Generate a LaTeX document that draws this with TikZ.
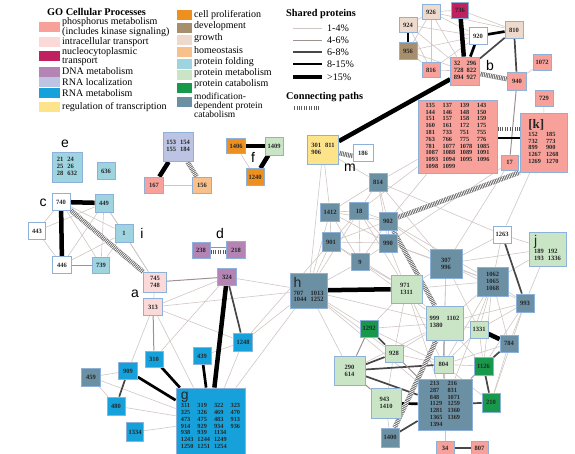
\documentclass[tikz,border=0pt]{standalone}
\usepackage{fontspec}
\setmainfont{Liberation Serif}
\newfontfamily\labf{Liberation Sans}
\pgfdeclarelayer{bg}
\pgfsetlayers{bg,main}
\definecolor{cphos}{HTML}{F7A19A}
\definecolor{cintra}{HTML}{FAD9D8}
\definecolor{cnuc}{HTML}{C0225F}
\definecolor{cdna}{HTML}{B384B4}
\definecolor{crloc}{HTML}{BCC3E3}
\definecolor{crmet}{HTML}{17A1DA}
\definecolor{ctrans}{HTML}{FDE48B}
\definecolor{cprol}{HTML}{EE901F}
\definecolor{cdev}{HTML}{A78E6D}
\definecolor{cgrow}{HTML}{EEDACC}
\definecolor{chomeo}{HTML}{F8C08B}
\definecolor{cpfold}{HTML}{9ED3E0}
\definecolor{cpmet}{HTML}{C9E5C6}
\definecolor{cpcat}{HTML}{17984A}
\definecolor{cmod}{HTML}{6B8FA3}
\definecolor{cbord}{HTML}{8DB1D8}
\definecolor{cthin}{HTML}{D0C6C3}
\definecolor{cmid}{HTML}{9C9391}
\newcommand\nfont{\bfseries\fontsize{6.5}{6.8}\selectfont}
\newcommand\nfontb{\bfseries\fontsize{6.3}{6.8}\selectfont}
\newcommand\biglab{\labf\mdseries\fontsize{14}{14}\selectfont}
\tikzset{
 nd/.style={draw=cbord, line width=0.8pt, inner sep=0.5pt, align=left, font=\nfont, text=black!85},
 sq/.style={nd, minimum width=18pt, minimum height=17pt},
 e1/.style={draw=cthin, line width=0.6pt},
 e2/.style={draw=cmid, line width=1pt},
 e3/.style={draw=black!72, line width=1.7pt},
 e4/.style={draw=black, line width=2.7pt},
 e5/.style={draw=black, line width=4.5pt},
 cpath/.style={draw=black!65, line width=4.5pt, postaction={draw=white, line width=4.5pt, dash pattern=on 0.7pt off 1pt}},
 lab/.style={font=\biglab, inner sep=0pt},
 lgt/.style={font=\fontsize{10}{7.5}\selectfont, align=left, anchor=west, inner sep=0pt},
 lgh/.style={font=\bfseries\fontsize{10.3}{10}\selectfont, anchor=west, inner sep=0pt},
 sw/.style={minimum width=21pt, minimum height=10pt, inner sep=0pt},
 swb/.style={minimum width=15pt, minimum height=10pt, inner sep=0pt},
}
\begin{document}
\begin{tikzpicture}[x=1pt,y=-1pt]
\useasboundingbox (0,0) rectangle (575,453);
% ---------- legend ----------
\node[lgh] (lt1) at (47,11.5) {GO Cellular Processes};
\node[sw, fill=cphos] (s1) at (49,26.5) {};
\node[lgt] (t1) at (62,27.5) {phosphorus metabolism\\(includes kinase signaling)};
\node[sw, fill=cintra] (s2) at (49,42) {};
\node[lgt] (t2) at (62,42) {intracellular transport};
\node[sw, fill=cnuc] (s3) at (49,56) {};
\node[lgt] (t3) at (62,56.5) {nucleocytoplasmic\\transport};
\node[sw, fill=cdna] (s4) at (49,71.5) {};
\node[lgt] (t4) at (62,71.5) {DNA metabolism};
\node[sw, fill=crloc] (s5) at (49,82) {};
\node[lgt] (t5) at (62,82) {RNA localization};
\node[sw, fill=crmet] (s6) at (49,93) {};
\node[lgt] (t6) at (62,93) {RNA metabolism};
\node[sw, fill=ctrans] (s7) at (49,107) {};
\node[lgt] (t7) at (62,107) {regulation of transcription};
\node[swb, fill=cprol] (u1) at (184.5,15) {};
\node[lgt] (v1) at (194,15) {cell proliferation};
\node[swb, fill=cdev] (u2) at (184.5,27.5) {};
\node[lgt] (v2) at (194,26.5) {development};
\node[swb, fill=cgrow] (u3) at (184.5,40) {};
\node[lgt] (v3) at (194,38) {growth};
\node[swb, fill=chomeo] (u4) at (184.5,51.5) {};
\node[lgt] (v4) at (194,50) {homeostasis};
\node[swb, fill=cpfold] (u5) at (184.5,63.5) {};
\node[lgt] (v5) at (194,62) {protein folding};
\node[swb, fill=cpmet] (u6) at (184.5,75) {};
\node[lgt] (v6) at (194,73.5) {protein metabolism};
\node[swb, fill=cpcat] (u7) at (184.5,87.5) {};
\node[lgt] (v7) at (194,84.5) {protein catabolism};
\node[swb, fill=cmod] (u8) at (184.5,101.5) {};
\node[lgt, font=\fontsize{9.5}{8.6}\selectfont] (v8) at (194,105.5) {modification-\\dependent protein\\catabolism};
\node[lgh] (lt2) at (286,14) {Shared proteins};
\coordinate (p1a) at (293,28); \coordinate (p1b) at (322,28);
\coordinate (p2a) at (293,40); \coordinate (p2b) at (322,40);
\coordinate (p3a) at (293,52); \coordinate (p3b) at (322,52);
\coordinate (p4a) at (293,64); \coordinate (p4b) at (322,64);
\coordinate (p5a) at (293,77); \coordinate (p5b) at (322,77);
\draw[e1] (p1a) -- (p1b);
\draw[e2] (p2a) -- (p2b);
\draw[e3] (p3a) -- (p3b);
\draw[e4] (p4a) -- (p4b);
\draw[e5] (p5a) -- (p5b);
\node[lgt] (w1) at (327,28) {1-4\%};
\node[lgt] (w2) at (327,40) {4-6\%};
\node[lgt] (w3) at (327,52) {6-8\%};
\node[lgt] (w4) at (327,64) {8-15\%};
\node[lgt] (w5) at (327,77) {>15\%};
\node[lgh] (lt3) at (286,97) {Connecting paths};
\coordinate (p6a) at (293,108); \coordinate (p6b) at (320,108);
\draw[cpath] (p6a) -- (p6b);
% ---------- top right cluster ----------
\node[sq, fill=cgrow, minimum height=15pt] (n926) at (431,12) {926};
\node[sq, fill=cnuc, minimum width=17pt, minimum height=16pt] (n736) at (460,10) {736};
\node[sq, fill=cgrow, minimum height=15pt] (n924) at (408,25) {924};
\node[sq, fill=cdev] (n956) at (408,51) {956};
\node[sq, fill=white] (n920) at (478,36) {920};
\node[sq, fill=cgrow] (n810) at (514,30) {810};
\node[sq, fill=cphos, minimum height=15pt] (n816) at (431,70) {816};
\node[nd, fill=cphos, minimum width=29pt, minimum height=28pt] (b) at (465,71) {\begin{tabular}{@{}l@{\hspace{3pt}}l@{}}32&296\\728&822\\894&927\end{tabular}};
\node[sq, fill=cphos, minimum height=16pt] (n1072) at (542,62) {1072};
\node[sq, fill=cphos, minimum width=19pt, minimum height=18pt] (n940) at (517,81) {940};
\node[sq, fill=cphos, minimum height=16pt] (n729) at (544,98) {729};
\node[nd, fill=cphos, minimum width=79pt, minimum height=73pt, font=\nfontb] (big) at (457.5,136.5) {\begin{tabular}{@{}l@{\hspace{4.5pt}}l@{\hspace{4.5pt}}l@{\hspace{4.5pt}}l@{}}135&137&139&143\\144&146&148&150\\151&157&158&159\\160&161&172&175\\181&733&751&755\\763&766&775&776\\781&1077&1078&1085\\1087&1088&1089&1091\\1093&1094&1095&1096\\1098&1099\end{tabular}};
\node[sq, fill=cphos, minimum width=17pt, minimum height=15pt] (n17) at (509.5,162.5) {17};
\node[nd, fill=cphos, minimum width=47pt, minimum height=59pt, font=\nfontb] (k) at (543.5,142.5) {\begin{tabular}{@{}l@{\hspace{5pt}}l@{}}\multicolumn{2}{@{}l}{\fontsize{13}{13}\selectfont[k]}\\[1pt]152&185\\732&773\\899&900\\1267&1268\\1269&1270\end{tabular}};
% ---------- left clusters ----------
\node[nd, fill=cpfold, minimum width=30pt, minimum height=30pt] (e) at (67,167) {\begin{tabular}{@{}l@{\hspace{4pt}}l@{}}21&24\\25&26\\28&632\end{tabular}};
\node[sq, fill=cpfold] (n636) at (106,171) {636};
\node[sq, fill=white] (n740) at (61,202) {740};
\node[sq, fill=cpfold, minimum height=18pt] (n449) at (104,203) {449};
\node[sq, fill=white, minimum width=17pt] (n443) at (37,231) {443};
\node[sq, fill=cpfold, minimum height=18pt] (n1) at (124,233) {1};
\node[sq, fill=white, minimum width=19pt] (n446) at (62,265) {446};
\node[sq, fill=cpfold, minimum width=17pt, minimum height=16pt] (n739) at (101,265) {739};
\node[nd, fill=crloc, minimum width=30pt, minimum height=29pt] (n153) at (178,147) {\begin{tabular}{@{}l@{\hspace{4pt}}l@{}}153&154\\155&184\end{tabular}};
\node[sq, fill=cphos, minimum width=19pt, minimum height=16pt] (n167) at (154,185) {167};
\node[sq, fill=chomeo, minimum width=19pt, minimum height=16pt] (n156) at (202,185) {156};
\node[sq, fill=cprol, minimum width=19pt, minimum height=15pt] (n1406) at (236,146) {1406};
\node[sq, fill=cpmet, minimum height=18pt] (n1409) at (274,146) {1409};
\node[sq, fill=cprol] (n1240) at (255,177) {1240};
\node[nd, fill=ctrans, minimum width=31pt, minimum height=29pt] (m) at (323,150) {\begin{tabular}{@{}l@{\hspace{4pt}}l@{}}301&811\\906\end{tabular}};
\node[sq, fill=white, minimum width=20pt] (n186) at (363,153) {186};
\node[sq, fill=cdna, minimum height=16pt] (n238) at (201,250) {238};
\node[sq, fill=cdna, minimum width=19pt] (n218) at (236,250) {218};
\node[sq, fill=cdna, minimum width=19pt] (n324) at (227,277) {324};
\node[nd, fill=cintra, minimum width=23pt, minimum height=20pt] (a) at (155,282) {745\\748};
\node[sq, fill=cintra, minimum width=19pt] (n313) at (153,307) {313};
\node[nd, fill=crmet, minimum width=69pt, minimum height=67pt, font=\nfontb] (g) at (210.5,421.5) {\begin{tabular}{@{}l@{\hspace{4pt}}l@{\hspace{4pt}}l@{\hspace{4pt}}l@{}}\multicolumn{4}{@{}l}{\biglab g}\\[1pt]311&319&322&323\\325&326&469&470\\473&475&483&913\\914&929&934&936\\938&939&1134\\1243&1244&1249\\1250&1251&1254\end{tabular}};
\node[sq, fill=crmet, minimum width=19pt, minimum height=18pt] (n1248) at (243,342) {1248};
\node[sq, fill=crmet] (n439) at (202,356) {439};
\node[sq, fill=crmet, minimum height=16pt] (n310) at (154,359) {310};
\node[sq, fill=crmet, minimum width=19pt] (n909) at (128,371) {909};
\node[sq, fill=cmod, minimum width=19pt, minimum height=18pt] (n459) at (91,377) {459};
\node[sq, fill=crmet, minimum height=18pt] (n480) at (116,406) {480};
\node[sq, fill=crmet, minimum width=17pt, minimum height=19pt] (n1334) at (135,432) {1334};
% ---------- central / right clusters ----------
\node[sq, fill=cmod, minimum height=18pt] (n814) at (378,182) {814};
\node[sq, fill=cmod, minimum width=19pt, minimum height=18pt] (n1412) at (330,212) {1412};
\node[sq, fill=cmod, minimum width=19pt] (n18) at (359,211) {18};
\node[sq, fill=cmod, minimum height=18pt] (n902) at (388,221) {902};
\node[sq, fill=cmod, minimum height=19pt] (n901) at (331,242) {901};
\node[sq, fill=cmod, minimum height=18pt] (n990) at (388,243) {990};
\node[sq, fill=cmod] (n9) at (360,262) {9};
\node[nd, fill=cmod, minimum width=37pt, minimum height=35pt] (h) at (308.5,290.5) {\begin{tabular}{@{}l@{\hspace{4pt}}l@{}}\multicolumn{2}{@{}l}{\biglab h}\\[1pt]707&1013\\1044&1252\end{tabular}};
\node[nd, fill=cpmet, minimum width=31pt, minimum height=28pt] (n971) at (406.5,289) {971\\1311};
\node[nd, fill=cmod, minimum width=32pt, minimum height=29pt] (n307) at (446,263.5) {307\\996};
\node[sq, fill=white] (n1263) at (502,234.5) {1263};
\node[nd, fill=cpmet, minimum width=37pt, minimum height=34pt] (j) at (547.5,249) {\begin{tabular}{@{}l@{\hspace{4pt}}l@{}}\multicolumn{2}{@{}l}{\biglab j}\\[1pt]189&192\\193&1336\end{tabular}};
\node[nd, fill=cmod, minimum width=31pt, minimum height=29pt] (n1062) at (492.5,281.5) {1062\\1065\\1068};
\node[sq, fill=cmod, minimum height=18pt] (n993) at (525,303) {993};
\node[nd, fill=cpmet, minimum width=37pt, minimum height=34pt] (n999) at (444.5,323) {\begin{tabular}{@{}l@{\hspace{4pt}}l@{}}999&1102\\1380\end{tabular}};
\node[sq, fill=cpmet] (n1331) at (479,329.5) {1331};
\node[sq, fill=cmod] (n784) at (509,343.5) {784};
\node[sq, fill=cpcat] (n1292) at (369,328.5) {1292};
\node[sq, fill=cpmet] (n928) at (394,353.5) {928};
\node[nd, fill=cpmet, minimum width=31pt, minimum height=29pt] (n290) at (349.5,370.5) {290\\614};
\node[sq, fill=cpmet, minimum width=19pt] (n804) at (443.5,364.5) {804};
\node[sq, fill=cpcat, minimum width=19pt, minimum height=18pt] (n1126) at (483.5,366) {1126};
\node[sq, fill=cpcat, minimum height=19pt] (n210) at (491,402.5) {210};
\node[nd, fill=cmod, minimum width=54pt, minimum height=51pt, font=\nfontb] (big2) at (445,404.5) {\begin{tabular}{@{}l@{\hspace{5pt}}l@{}}213&216\\287&831\\848&1071\\1129&1259\\1281&1360\\1365&1369\\1394\end{tabular}};
\node[nd, fill=cpmet, minimum width=30pt, minimum height=30pt] (n943) at (386,403) {943\\1410};
\node[sq, fill=cmod, minimum height=19pt] (n1400) at (390,437.5) {1400};
\node[sq, fill=cphos, minimum height=14pt] (n34) at (445,448) {34};
\node[sq, fill=cphos, minimum width=17pt, minimum height=14pt] (n807) at (479.5,448) {807};
% ---------- cluster labels ----------
\node[lab] (la) at (135,294) {a};
\node[lab] (lb) at (490,65) {b};
\node[lab] (lc) at (43,203) {c};
\node[lab] (ld) at (220,233) {d};
\node[lab] (le) at (65,144) {e};
\node[lab] (lf) at (253,157) {f};
\node[lab] (li) at (142,233) {i};
\node[lab] (lm) at (350,168) {m};
% ---------- connectors ----------
\begin{pgfonlayer}{bg}
% top right
\foreach \u/\v in {n926/n924,n926/n956,n926/n816,n926/b,n926/n736,n926/n810,n926/n920,n924/n816,n924/b,n924/n920,n956/n816,n956/b,n956/n920,n736/n810,n816/b,n816/n920,n1072/n940,n729/k,n17/k,big/n814,big/n902,big/n18,n17/n307,n17/n990,k/n1263,m/h,m/n1412,m/n814}
  \draw[e1] (\u) -- (\v);
\draw[e5] (n736) -- (b);
\draw[e4] (n920) -- (b);
\draw[e4] (n920) -- (n810);
\draw[e4] (n924) -- (n956);
\draw[e3] (n810) -- (b);
\draw[e3] (n810) -- (n940);
\draw[e2] (n940) -- (n17);
\draw[e5] (b) -- (m);
\draw[cpath] (b) -- (n940);
\draw[cpath] ([yshift=7.5pt]big.east) -- ([yshift=13.5pt]k.west);
\draw[e4] ([yshift=-1.5pt]big.east) -- ([yshift=4.5pt]k.west);
% left
\foreach \u/\v in {n740/n443,n740/n1,n740/n739,n449/n443,n449/n1,n449/n446,n449/n739,n443/n446,n1/n446,n1/n739,n1/a,n449/a}
  \draw[e1] (\u) -- (\v);
\draw[e2] (n446) -- (n739);
\draw[e5] (n740) -- (n449);
\draw[e5] (n740) -- (n446);
\draw[cpath] (n740) -- (a);
\draw[e5] (n153) -- (n167);
\draw[cpath] (n153) -- (n156);
\draw[e1] (n167) -- (n156);
\draw[e5] (n1406) -- (n1409);
\draw[e5] (n1409) -- (n1240);
\draw[e1] (n1406) -- (n1240);
\draw[cpath] ([yshift=-3pt]m.east) -- ([yshift=-3pt]n186.west);
\draw[e2] ([yshift=3pt]n238.east) -- ([yshift=3pt]n218.west);
\draw[cpath] ([yshift=-2pt]n238.east) -- ([yshift=-2pt]n218.west);
% a / g
\foreach \u/\v in {a/n313,n313/n324,n313/h,n324/h,n313/n909,n313/g,n313/n1248,n324/n310,n459/n909,n459/n480,n459/g,n480/g,n1334/g,n1248/g,n439/n1248,n1248/h,g/h,n901/n1248}
  \draw[e1] (\u) -- (\v);
\draw[e2] (a) -- (n324);
\draw[e2] (n313) -- (n310);
\draw[e5] (n324) -- (g);
\draw[e3] (n324) -- (n1248);
\draw[e4] (n439) -- (g);
\draw[e4] (n310) -- (g);
\draw[e4] (n909) -- (g);
\draw[e3] (n909) -- (n480);
% slate mesh
\foreach \u/\v in {n814/n18,n814/n902,n814/n990,n814/n307,n814/n1412,n1412/n18,n1412/n901,n1412/n9,n1412/n990,n1412/n902,n18/n902,n18/n901,n18/n990,n18/n9,n902/n990,n902/n901,n902/n9,n901/n9,n901/n990,n990/n9,n901/h,n9/h,n1412/h,n18/h,n18/n971,n9/n971,n990/n971,n902/n307,n990/n307,n901/n971,n9/n999,n990/n1062,n902/n1062,n814/n1263}
  \draw[e1] (\u) -- (\v);
\foreach \u/\v in {h/n1292,h/n290,h/n928,h/big2,h/n999,n971/n999,n971/n1292,n971/n928,n971/n804,n971/n307,n971/n1062,n971/big2,n307/n1062,n307/n999,n307/n1263,n307/n804,n307/n993,n307/j,n307/n1331,n1263/j,n1263/n1062,j/n993,j/n1062,n1062/n999,n1062/n993,n1062/n804,n1062/n1331,n1062/n784,n1062/big2,n1062/n1126,n993/n784,n993/n1331,n993/n999,n993/n1126,n993/n210,n999/n1331,n999/n1292,n999/n928,n999/n290,n999/big2,n999/n1126,n1331/n804,n1331/n1126,n784/n210,n784/n804,n1126/n804,n1292/n804,n1292/big2,n928/n804,n928/n943,n804/n210,big2/n34,n943/n1400}
  \draw[e1] (\u) -- (\v);
\draw[e5] (h) -- (n971);
\draw[e3] (n1263) -- (n993);
\draw[e2] (n999) -- (n804);
\draw[e5] (n1331) -- (n784);
\draw[e3] (n784) -- (n1126);
\draw[e3] (n1126) -- (n210);
\draw[e2] (n1126) -- (big2);
\draw[e3] (n1292) -- (n928);
\draw[e2] (n1292) -- (n290);
\draw[e3] (n290) -- (n928);
\draw[e3] (n290) -- (n804);
\draw[e3] (n290) -- (big2);
\draw[e2] (n290) -- (n943);
\draw[e2] (n928) -- (big2);
\draw[e2] (n804) -- (big2);
\draw[e4] (n943) -- (big2);
\draw[e3] (big2) -- (n210);
\draw[e3] (big2) -- (n1400);
\draw[e3] (n34) -- (n807);
\draw[cpath] (n902) -- (k.south west);
\draw[cpath] (n902) -- (n999);
\draw[cpath] (n999) -- (n1400);
\end{pgfonlayer}
\end{tikzpicture}
\end{document}
